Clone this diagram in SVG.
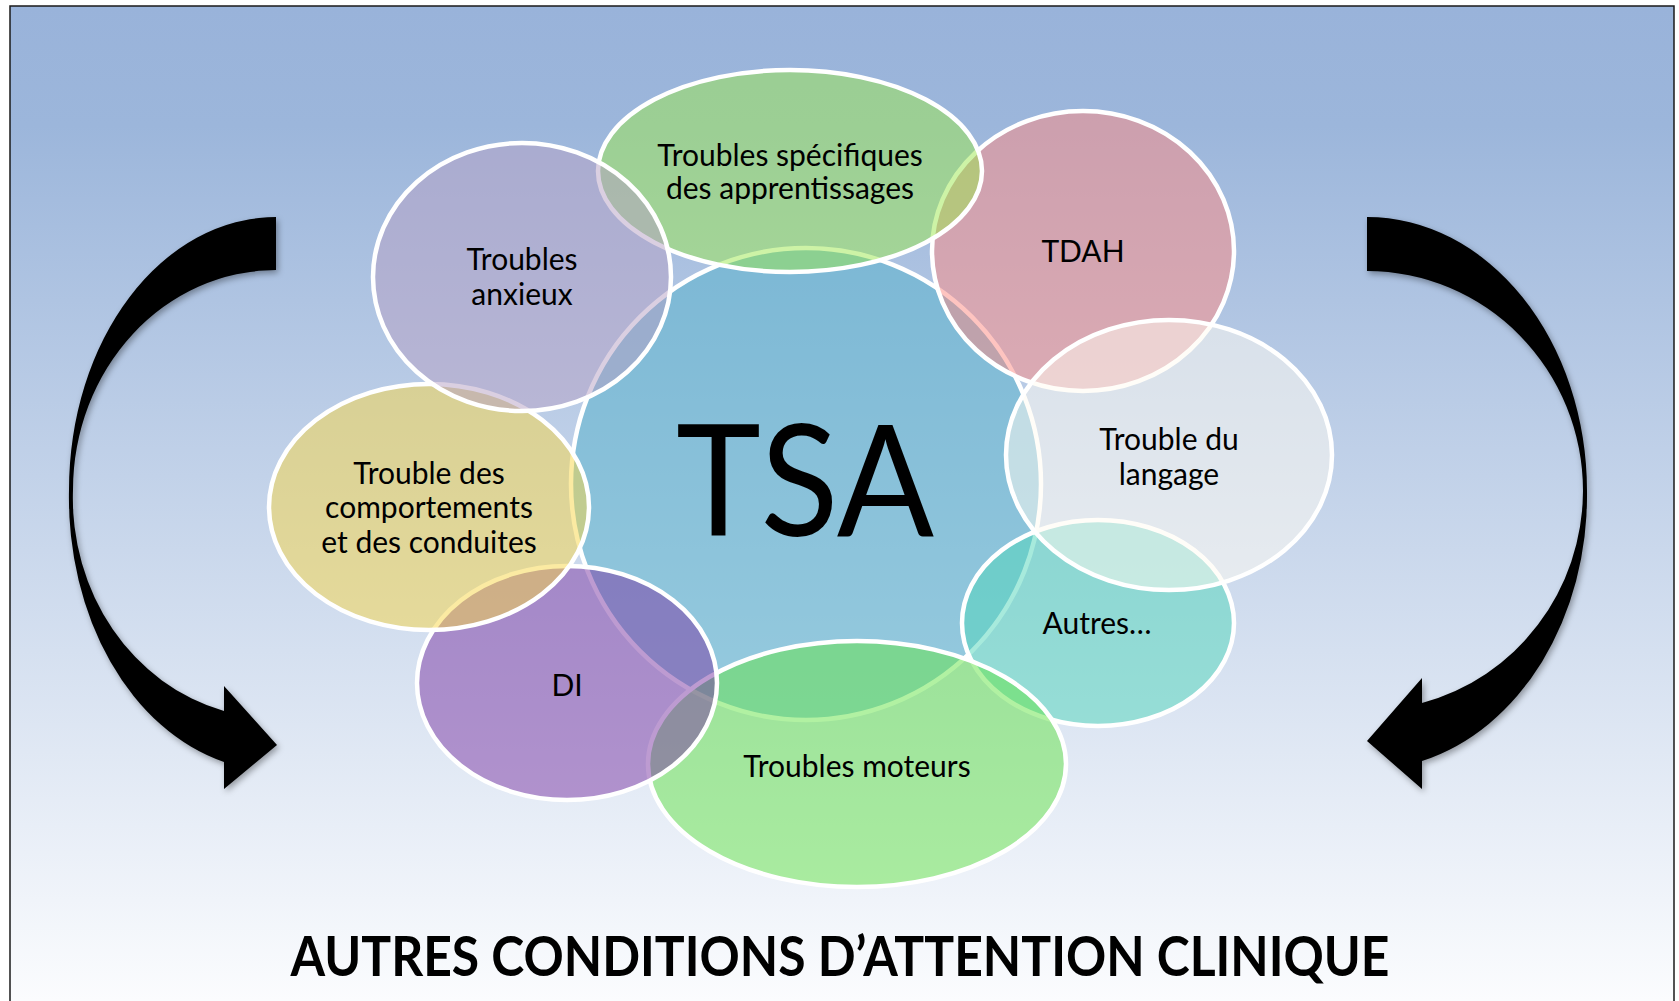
<svg xmlns="http://www.w3.org/2000/svg" width="1679" height="1001" viewBox="0 0 1679 1001">
<defs>
<linearGradient id="bg" x1="0" y1="6" x2="0" y2="1001" gradientUnits="userSpaceOnUse">
<stop offset="0" stop-color="#99B3DA"/>
<stop offset="0.12" stop-color="#9CB6DB"/>
<stop offset="1" stop-color="#FBFCFE"/>
</linearGradient>
<filter id="sh" x="-20%" y="-20%" width="140%" height="140%">
<feDropShadow dx="2" dy="3" stdDeviation="3" flood-color="#000" flood-opacity="0.35"/>
</filter>
</defs>
<style>
.n{stroke:#FFFFFF;stroke-width:4.5;fill-opacity:0.5}
.t{font-family:Lato,"Liberation Sans",sans-serif;font-size:30px;fill:#000;text-anchor:middle}
.arrow{fill:#000;filter:url(#sh)}
</style>
<rect x="0" y="0" width="1679" height="1001" fill="#FFFFFF"/>
<rect x="10" y="6" width="1664" height="1010" fill="url(#bg)" stroke="#1a1a1a" stroke-width="1.5"/>

<g id="connectors">
<path class="arrow" d="M 276 217 A 207 273 0 0 0 69 490 A 207 273 0 0 0 224 762 L 224 789 L 277 745 L 224 686 L 224 711 A 203 220 0 0 1 73 490 A 203 220 0 0 1 276 270 Z"/>
<path class="arrow" d="M 1367 217 A 220 274 0 0 1 1587 491 A 220 274 0 0 1 1422 761 L 1422 789 L 1367 741 L 1422 678 L 1422 703 A 216 220 0 0 0 1583 491 A 216 220 0 0 0 1367 271 Z"/>
</g>

<g id="node-tsa">
<ellipse class="n" cx="806" cy="484" rx="235" ry="236" fill="#50B0C9"/>
<text x="805" y="536" style="font-family:Lato,'Liberation Sans',sans-serif;font-size:155px;text-anchor:middle" textLength="258" lengthAdjust="spacingAndGlyphs">TSA</text>
</g>
<g id="node-tdah">
<ellipse class="n" cx="1083" cy="251" rx="151" ry="140" fill="#FD8982"/>
<text class="t" x="1083" y="262">TDAH</text>
</g>
<g id="node-autres">
<ellipse class="n" cx="1098" cy="623" rx="136" ry="103" fill="#50D6BA"/>
<text class="t" x="1097" y="634">Autres…</text>
</g>
<g id="node-langage">
<ellipse class="n" cx="1169" cy="455" rx="163" ry="135" fill="#FFFCF2"/>
<text class="t" x="1169" y="450">Trouble du</text>
<text class="t" x="1169" y="485">langage</text>
</g>
<g id="node-moteurs">
<ellipse class="n" cx="857" cy="764" rx="209" ry="123" fill="#64E446"/>
<text class="t" x="857" y="777">Troubles moteurs</text>
</g>
<g id="node-di">
<ellipse class="n" cx="567" cy="683" rx="150" ry="117" fill="#7C38A3"/>
<text class="t" x="567" y="696">DI</text>
</g>
<g id="node-comportements">
<ellipse class="n" cx="429" cy="507" rx="160" ry="123" fill="#F8D545"/>
<text class="t" x="429" y="484">Trouble des</text>
<text class="t" x="429" y="518">comportements</text>
<text class="t" x="429" y="553">et des conduites</text>
</g>
<g id="node-specifiques">
<ellipse class="n" cx="790" cy="171" rx="192" ry="101" fill="#9CE74D"/>
<text class="t" x="790" y="166">Troubles spécifiques</text>
<text class="t" x="790" y="199">des apprentissages</text>
</g>
<g id="node-anxieux">
<ellipse class="n" cx="522" cy="277" rx="149" ry="134" fill="#B6A0C3"/>
<text class="t" x="522" y="270">Troubles</text>
<text class="t" x="522" y="305">anxieux</text>
</g>

<text x="840" y="976" style="font-family:Lato,'Liberation Sans',sans-serif;font-size:55px;font-weight:700;text-anchor:middle" textLength="1099" lengthAdjust="spacingAndGlyphs">AUTRES CONDITIONS D’ATTENTION CLINIQUE</text>
</svg>
